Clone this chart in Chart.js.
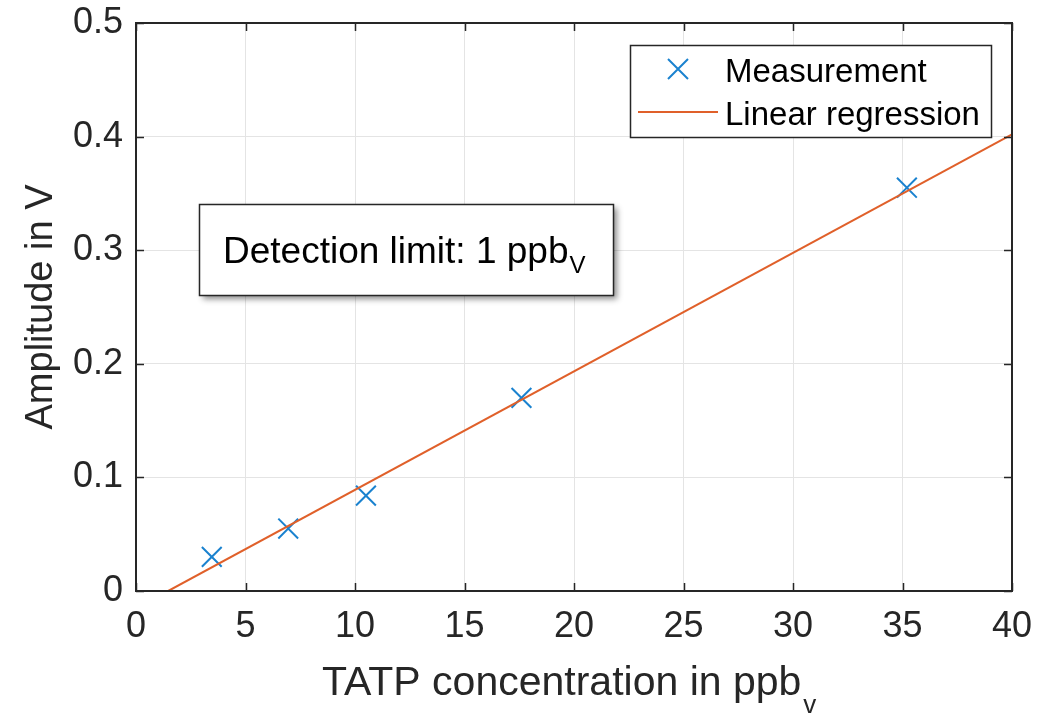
<!DOCTYPE html>
<html>
<head>
<meta charset="utf-8">
<script src="https://cdn.jsdelivr.net/npm/chart.js@4/dist/chart.umd.min.js"></script>
<style>
  html, body { margin: 0; padding: 0; background: #fff; }
  #wrap { width: 1048px; height: 715px; }
</style>
</head>
<body>
<div id="wrap"><canvas id="cal"></canvas></div>
<script>
const concentration = [3.46, 6.95, 10.5, 17.6, 35.2];
const amplitude = [0.030, 0.055, 0.084, 0.170, 0.355];
const regressionX = [1.47, 40];
const regressionY = [0, 0.402];
const xTicks = [0, 5, 10, 15, 20, 25, 30, 35, 40];
const yTicks = [0, 0.1, 0.2, 0.3, 0.4, 0.5];

const FONT = "'Liberation Sans', Arial, Helvetica, sans-serif";
const AXIS = '#262626';
const BLUE = '#1a82cf';
const ORANGE = '#e0602a';

const measured = concentration.map((c, i) => ({ x: c, y: amplitude[i] }));
const fitted = regressionX.map((c, i) => ({ x: c, y: regressionY[i] }));

// box, inward ticks, titles, legend and text box in MATLAB style
const matlabLook = {
  id: 'matlabLook',
  afterDraw(chart) {
    const ctx = chart.ctx;
    const a = chart.chartArea;
    const xs = chart.scales.x, ys = chart.scales.y;
    ctx.save();

    // inward ticks
    ctx.strokeStyle = AXIS;
    ctx.lineWidth = 1.5;
    ctx.beginPath();
    xTicks.forEach(v => {
      const px = Math.round(xs.getPixelForValue(v)) + 0.5;
      ctx.moveTo(px, a.bottom); ctx.lineTo(px, a.bottom - 8);
      ctx.moveTo(px, a.top); ctx.lineTo(px, a.top + 8);
    });
    yTicks.forEach(v => {
      const py = Math.round(ys.getPixelForValue(v)) + 0.5;
      ctx.moveTo(a.left, py); ctx.lineTo(a.left + 8, py);
      ctx.moveTo(a.right, py); ctx.lineTo(a.right - 8, py);
    });
    ctx.stroke();

    // axes box
    ctx.lineWidth = 2;
    ctx.strokeRect(a.left, a.top, a.right - a.left, a.bottom - a.top);

    // x title with subscript
    ctx.fillStyle = '#262626';
    ctx.textBaseline = 'alphabetic';
    ctx.textAlign = 'left';
    ctx.font = '41px ' + FONT;
    const xt = 'TATP concentration in ppb';
    const xw = ctx.measureText(xt).width;
    const x0 = 322;
    ctx.fillText(xt, x0, 695);
    ctx.font = '26px ' + FONT;
    ctx.fillText('v', x0 + xw + 2, 713);

    // y title
    ctx.save();
    ctx.translate(52, (a.top + a.bottom) / 2);
    ctx.rotate(-Math.PI / 2);
    ctx.textAlign = 'center';
    ctx.font = '38px ' + FONT;
    ctx.fillText('Amplitude in V', 0, 0);
    ctx.restore();

    // text box with shadow
    const bx = 199, by = 204, bw = 414, bh = 91;
    ctx.save();
    ctx.shadowColor = 'rgba(0,0,0,0.45)';
    ctx.shadowBlur = 6;
    ctx.shadowOffsetX = 4;
    ctx.shadowOffsetY = 4;
    ctx.fillStyle = '#fff';
    ctx.fillRect(bx, by, bw, bh);
    ctx.restore();
    ctx.lineWidth = 1.5;
    ctx.strokeStyle = AXIS;
    ctx.strokeRect(bx + 0.5, by + 0.5, bw, bh);
    ctx.fillStyle = '#000';
    ctx.font = '37px ' + FONT;
    const dt = 'Detection limit: 1 ppb';
    ctx.fillText(dt, 223, 263);
    const dw = ctx.measureText(dt).width;
    ctx.font = '24px ' + FONT;
    ctx.fillText('V', 223 + dw + 1, 273);

    // legend
    const lx = 630, ly = 45, lw = 361, lh = 92;
    ctx.fillStyle = '#fff';
    ctx.fillRect(lx, ly, lw, lh);
    ctx.lineWidth = 1.5;
    ctx.strokeRect(lx + 0.5, ly + 0.5, lw, lh);
    ctx.strokeStyle = BLUE;
    ctx.lineWidth = 2;
    ctx.beginPath();
    ctx.moveTo(668, 59); ctx.lineTo(688, 79);
    ctx.moveTo(688, 59); ctx.lineTo(668, 79);
    ctx.stroke();
    ctx.strokeStyle = ORANGE;
    ctx.beginPath();
    ctx.moveTo(638, 112); ctx.lineTo(718, 112);
    ctx.stroke();
    ctx.fillStyle = '#000';
    ctx.font = '33px ' + FONT;
    ctx.fillText(chart.data.datasets[1].label, 725, 82);
    ctx.fillText(chart.data.datasets[0].label, 725, 125);

    ctx.restore();
  }
};

new Chart(document.getElementById('cal'), {
  type: 'scatter',
  data: {
    datasets: [{
      label: 'Linear regression',
      data: fitted,
      showLine: true,
      borderColor: ORANGE,
      borderWidth: 2,
      pointRadius: 0,
      order: 0
    }, {
      label: 'Measurement',
      data: measured,
      showLine: false,
      pointStyle: 'crossRot',
      pointRadius: 14,
      borderColor: BLUE,
      backgroundColor: BLUE,
      pointBorderWidth: 2,
      order: 1
    }]
  },
  options: {
    responsive: true,
    maintainAspectRatio: false,
    animation: false,
    layout: { padding: { top: 23, right: 36, left: 0, bottom: 0 } },
    plugins: { legend: { display: false }, tooltip: { enabled: false } },
    scales: {
      x: {
        type: 'linear',
        min: 0, max: 40,
        afterBuildTicks: s => { s.ticks = xTicks.map(v => ({ value: v })); },
        afterFit: s => { s.height = 124; s.paddingLeft = 0; s.paddingRight = 0; },
        border: { display: false },
        grid: { color: '#e4e4e4', lineWidth: 1, drawTicks: false },
        ticks: { color: '#262626', font: { family: FONT, size: 36 }, padding: 14, maxRotation: 0 }
      },
      y: {
        type: 'linear',
        min: 0, max: 0.5,
        afterBuildTicks: s => { s.ticks = yTicks.map(v => ({ value: v })); },
        afterFit: s => { s.width = 136; s.paddingTop = 0; s.paddingBottom = 0; },
        border: { display: false },
        grid: { color: '#e4e4e4', lineWidth: 1, drawTicks: false },
        ticks: { color: '#262626', font: { family: FONT, size: 36 }, padding: 13, callback: v => String(v) }
      }
    }
  },
  plugins: [matlabLook]
});
</script>
</body>
</html>
